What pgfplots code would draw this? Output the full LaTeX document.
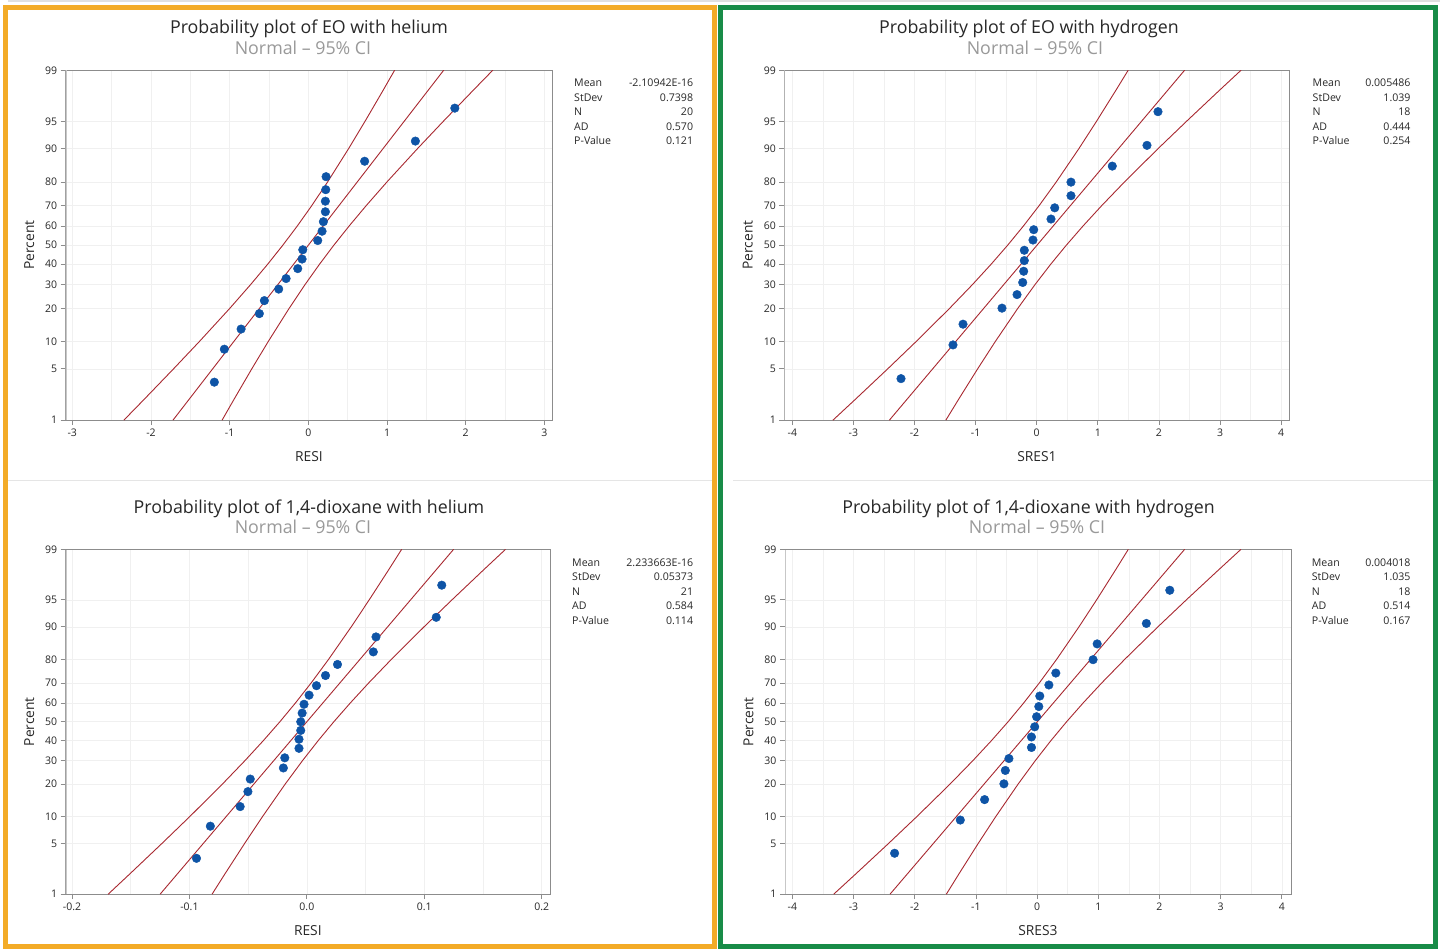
\documentclass[border=0pt]{standalone}
\usepackage{fontspec}
\setmainfont{Open Sans}
\usepackage{pgfplots}
\pgfplotsset{compat=1.18}

\definecolor{mtblue}{RGB}{14,84,166}
\definecolor{mtred}{RGB}{168,40,48}
\definecolor{frameor}{RGB}{243,171,39}
\definecolor{framegr}{RGB}{24,140,72}
\definecolor{txt}{RGB}{40,40,40}

\newcommand\titlefont{\fontsize{17.8}{20}\selectfont}
\newcommand\statfont{\fontsize{10.6}{12}\selectfont}
\newcommand\tickfont{\fontsize{10.5}{12}\selectfont}
\newcommand\labfont{\fontsize{13.8}{16}\selectfont}

% normal probability scale: percent -> z (Abramowitz-Stegun 26.2.23)
\pgfplotsset{
  probplot/.style={
    scale only axis,
    anchor=south west,
    ymin=1, ymax=99,
    y coord trafo/.code={%
      \pgfmathparse{min(##1,100-##1)/100}\let\zq\pgfmathresult
      \pgfmathparse{sqrt(-2*ln(\zq))}\let\zt\pgfmathresult
      \pgfmathparse{(##1<50?-1:1)*(\zt-(2.515517+0.802853*\zt+0.010328*\zt*\zt)/(1+1.432788*\zt+0.189269*\zt*\zt+0.001308*\zt*\zt*\zt))}%
    },
    ytick={1,5,10,20,30,40,50,60,70,80,90,95,99},
    yticklabels={1,5,10,20,30,40,50,60,70,80,90,95,99},
    xtick pos=left, ytick pos=left,
    tick align=outside,
    major tick length=5pt,
    minor tick length=0pt,
    minor x tick num=1,
    tick style={black!45, line width=0.8pt},
    grid=major, xminorgrids,
    major grid style={black!6, line width=0.6pt},
    minor grid style={black!6, line width=0.6pt},
    axis line style={black!45, line width=0.9pt},
    ticklabel style={font=\tickfont, text=txt},
    xlabel style={font=\labfont, text=txt, at={(axis description cs:0.5,0)}, anchor=base, yshift=-41pt},
    ylabel style={font=\labfont, text=txt, at={([xshift=-36.5pt]axis description cs:0,0.5)}, anchor=center},
    ylabel={Percent},
  },
  ci/.style={mtred, line width=0.9pt, no marks},
  pts/.style={only marks, mark=*, mark size=4.3pt, mtblue},
}

\newcommand\stats[8]{%
  \foreach \lab/\val [count=\k from 0] in {Mean/#4,StDev/#5,N/#6,AD/#7,P-Value/#8} {
    \pgfmathsetmacro\yy{-(#3+14.6*\k)}
    \node[anchor=base west, inner sep=0pt, font=\statfont, text=txt] at (#1pt,\yy pt) {\lab};
    \node[anchor=base east, inner sep=0pt, font=\statfont, text=txt] at (#2pt,\yy pt) {\val};
  }}

\begin{document}
\begin{tikzpicture}
\useasboundingbox (0,0) rectangle (1440pt,-949pt);
\fill[white] (0,0) rectangle (1440pt,-949pt);
\draw[black!12, line width=1.5pt] (8pt,-1pt) -- (1440pt,-1pt);
% panel frames and separators
\draw[black!10, line width=1pt] (8pt,-480.5pt) -- (712pt,-480.5pt);
\draw[black!10, line width=1pt] (733pt,-480.5pt) -- (1433pt,-480.5pt);
\draw[frameor, line width=5pt] (5pt,-7.5pt) rectangle (714.8pt,-946.5pt);
\draw[framegr, line width=5pt] (720.7pt,-7.5pt) rectangle (1435.5pt,-946.5pt);

% ---------------- EO with helium ----------------
\node[anchor=base, font=\titlefont, text=txt] at (309pt,-33.3pt) {Probability plot of EO with helium};
\node[anchor=base, font=\titlefont, text=black!40] at (303pt,-55pt) {Normal – 95\% CI};
\begin{axis}[probplot, at={(65.7pt,-420pt)}, width=486.6pt, height=349.7pt,
  xmin=-3.084, xmax=3.10, xtick={-3,-2,-1,0,1,2,3},
  xticklabels={-3,-2,-1,0,1,2,3}, xlabel={RESI}]
\addplot[ci] coordinates {(-1.7210,1) (1.7210,99)};
\addplot[ci] coordinates {(-2.3452,1) (-2.0910,2) (-1.7142,5) (-1.3857,10) (-0.9999,20) (-0.7338,30) (-0.5168,40) (-0.3242,50) (-0.1420,60) (0.0422,70) (0.2453,80) (0.5105,90) (0.7196,95) (0.9476,98) (1.0968,99)};
\addplot[ci] coordinates {(-1.0968,1) (-0.9476,2) (-0.7196,5) (-0.5105,10) (-0.2453,20) (-0.0422,30) (0.1420,40) (0.3242,50) (0.5168,60) (0.7338,70) (0.9999,80) (1.3857,90) (1.7142,95) (2.0910,98) (2.3452,99)};
\addplot[pts] coordinates {(-1.195,3.431) (-1.068,8.333) (-0.855,13.235) (-0.623,18.137) (-0.559,23.039) (-0.377,27.941) (-0.283,32.843) (-0.135,37.745) (-0.080,42.647) (-0.071,47.549) (0.119,52.451) (0.174,57.353) (0.191,62.255) (0.216,67.157) (0.216,72.059) (0.221,76.961) (0.225,81.863) (0.715,86.765) (1.360,91.667) (1.861,96.569)};
\draw[black!22, line width=2.2pt] (rel axis cs:0,0) -- (rel axis cs:0,1);
\end{axis}
\stats{574}{693.3}{86.5}{-2.10942E-16}{0.7398}{20}{0.570}{0.121}

% ---------------- EO with hydrogen ----------------
\node[anchor=base, font=\titlefont, text=txt] at (1029pt,-33.3pt) {Probability plot of EO with hydrogen};
\node[anchor=base, font=\titlefont, text=black!40] at (1035pt,-55pt) {Normal – 95\% CI};
\begin{axis}[probplot, at={(784.3pt,-420pt)}, width=505.4pt, height=349.7pt,
  xmin=-4.131, xmax=4.141, xtick={-4,-3,-2,-1,0,1,2,3,4},
  xticklabels={-4,-3,-2,-1,0,1,2,3,4}, xlabel={SRES1}]
\addplot[ci] coordinates {(-2.4115,1) (2.4225,99)};
\addplot[ci] coordinates {(-3.3356,1) (-2.9746,2) (-2.4398,5) (-1.9739,10) (-1.4275,20) (-1.0513,30) (-0.7453,40) (-0.4745,50) (-0.2189,60) (0.0384,70) (0.3213,80) (0.6893,90) (0.9783,95) (1.2929,98) (1.4985,99)};
\addplot[ci] coordinates {(-1.4875,1) (-1.2820,2) (-0.9673,5) (-0.6783,10) (-0.3104,20) (-0.0274,30) (0.2299,40) (0.4855,50) (0.7563,60) (1.0623,70) (1.4385,80) (1.9849,90) (2.4508,95) (2.9856,98) (3.3466,99)};
\addplot[pts] coordinates {(-2.221,3.804) (-1.370,9.239) (-1.206,14.674) (-0.568,20.109) (-0.322,25.543) (-0.229,30.978) (-0.213,36.413) (-0.203,41.848) (-0.203,47.283) (-0.061,52.717) (-0.049,58.152) (0.234,63.587) (0.295,69.022) (0.561,74.457) (0.561,79.891) (1.237,85.326) (1.805,90.761) (1.985,96.196)};
\draw[black!22, line width=2.2pt] (rel axis cs:0,0) -- (rel axis cs:0,1);
\end{axis}
\stats{1312.5}{1410.7}{86.5}{0.005486}{1.039}{18}{0.444}{0.254}

% ---------------- 1,4-dioxane with helium ----------------
\node[anchor=base, font=\titlefont, text=txt] at (309pt,-513pt) {Probability plot of 1,4-dioxane with helium};
\node[anchor=base, font=\titlefont, text=black!40] at (303pt,-533.5pt) {Normal – 95\% CI};
\begin{axis}[probplot, at={(65.7pt,-894pt)}, width=484.3pt, height=344.5pt,
  xmin=-0.2054, xmax=0.2071, xtick={-0.2,-0.1,0,0.1,0.2},
  xticklabels={-0.2,-0.1,0.0,0.1,0.2}, xlabel={RESI}]
\addplot[ci] coordinates {(-0.12499,1) (0.12499,99)};
\addplot[ci] coordinates {(-0.16923,1) (-0.15086,2) (-0.12363,5) (-0.09987,10) (-0.07196,20) (-0.05269,30) (-0.03696,40) (-0.02298,50) (-0.00974,60) (0.00367,70) (0.01848,80) (0.03785,90) (0.05313,95) (0.06983,98) (0.08075,99)};
\addplot[ci] coordinates {(-0.08075,1) (-0.06983,2) (-0.05313,5) (-0.03785,10) (-0.01848,20) (-0.00367,30) (0.00974,40) (0.02298,50) (0.03696,60) (0.05269,70) (0.07196,80) (0.09987,90) (0.12363,95) (0.15086,98) (0.16923,99)};
\addplot[pts] coordinates {(-0.0940,3.271) (-0.0822,7.944) (-0.0568,12.617) (-0.0502,17.290) (-0.0482,21.963) (-0.0200,26.636) (-0.0188,31.308) (-0.0067,35.981) (-0.0067,40.654) (-0.0052,45.327) (-0.0052,50.000) (-0.0040,54.673) (-0.0024,59.346) (0.0019,64.019) (0.0082,68.692) (0.0159,73.364) (0.0261,78.037) (0.0566,82.710) (0.0589,87.383) (0.1102,92.056) (0.1149,96.729)};
\draw[black!22, line width=2.2pt] (rel axis cs:0,0) -- (rel axis cs:0,1);
\end{axis}
\stats{572}{693.3}{566}{2.233663E-16}{0.05373}{21}{0.584}{0.114}

% ---------------- 1,4-dioxane with hydrogen ----------------
\node[anchor=base, font=\titlefont, text=txt] at (1028.5pt,-513pt) {Probability plot of 1,4-dioxane with hydrogen};
\node[anchor=base, font=\titlefont, text=black!40] at (1037pt,-533.5pt) {Normal – 95\% CI};
\begin{axis}[probplot, at={(785pt,-894pt)}, width=506pt, height=344.5pt,
  xmin=-4.12, xmax=4.15, xtick={-4,-3,-2,-1,0,1,2,3,4},
  xticklabels={-4,-3,-2,-1,0,1,2,3,4}, xlabel={SRES3}]
\addplot[ci] coordinates {(-2.4037,1) (2.4117,99)};
\addplot[ci] coordinates {(-3.3242,1) (-2.9646,2) (-2.4319,5) (-1.9677,10) (-1.4235,20) (-1.0487,30) (-0.7439,40) (-0.4741,50) (-0.2196,60) (0.0368,70) (0.3187,80) (0.6852,90) (0.9731,95) (1.2865,98) (1.4913,99)};
\addplot[ci] coordinates {(-1.4832,1) (-1.2785,2) (-0.9650,5) (-0.6772,10) (-0.3106,20) (-0.0288,30) (0.2276,40) (0.4822,50) (0.7519,60) (1.0567,70) (1.4315,80) (1.9757,90) (2.4399,95) (2.9727,98) (3.3322,99)};
\addplot[pts] coordinates {(-2.329,3.804) (-1.255,9.239) (-0.858,14.674) (-0.542,20.109) (-0.519,25.543) (-0.460,30.978) (-0.092,36.413) (-0.092,41.848) (-0.039,47.283) (-0.008,52.717) (0.028,58.152) (0.044,63.587) (0.193,69.022) (0.306,74.457) (0.915,79.891) (0.982,85.326) (1.786,90.761) (2.169,96.196)};
\draw[black!22, line width=2.2pt] (rel axis cs:0,0) -- (rel axis cs:0,1);
\end{axis}
\stats{1311.7}{1410.7}{566}{0.004018}{1.035}{18}{0.514}{0.167}
\end{tikzpicture}
\end{document}
